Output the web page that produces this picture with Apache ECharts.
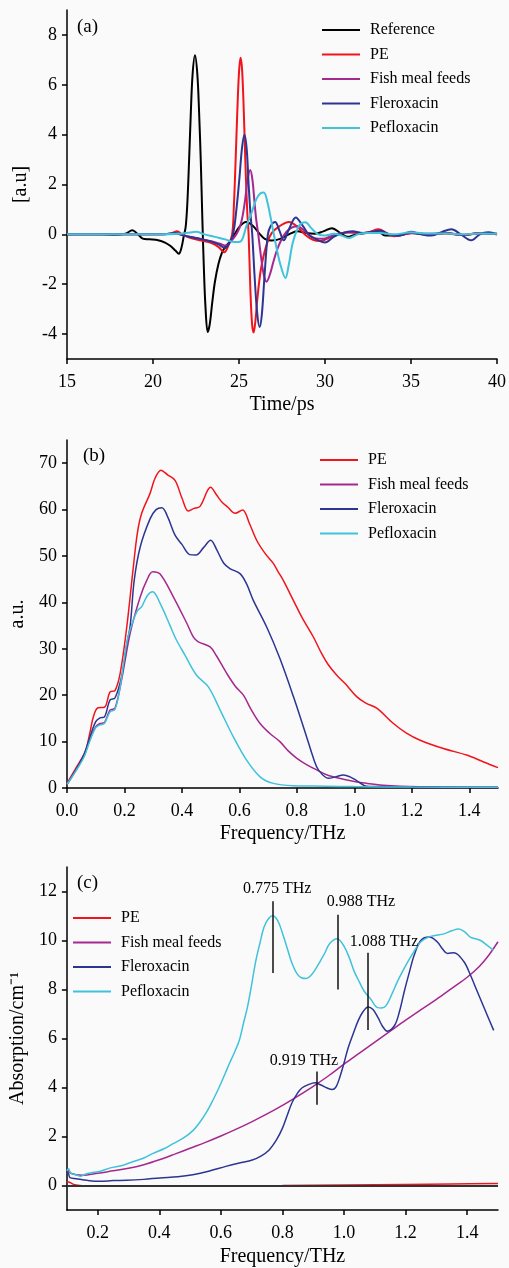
<!DOCTYPE html>
<html>
<head>
<meta charset="utf-8">
<script src="https://cdn.jsdelivr.net/npm/echarts@6/dist/echarts.min.js"></script>
<style>
  html, body { margin: 0; padding: 0; background: #fafafa; }
  #main { width: 509px; height: 1268px; }
</style>
</head>
<body>
<div id="main"></div>
<script>
// (a) time-domain signals, [time ps, amplitude]
var aReference = [[15,0],[16,0],[17,0],[17.8,-0.02],[18.4,0.03],[18.8,0.16],[19.1,0.02],[19.4,-0.17],[19.8,-0.2],[20.3,-0.24],[20.7,-0.33],[21.0,-0.46],[21.3,-0.65],[21.5,-0.78],[21.65,-0.55],[21.78,-0.1],[21.9,0.3],[22.0,1.3],[22.1,3.0],[22.2,4.9],[22.3,6.4],[22.44,7.18],[22.58,6.4],[22.68,4.9],[22.78,2.9],[22.87,0.6],[22.95,-1.2],[23.05,-2.9],[23.18,-3.92],[23.3,-3.6],[23.45,-2.7],[23.6,-1.9],[23.8,-1.2],[24.0,-0.75],[24.2,-0.5],[24.45,-0.3],[24.7,-0.05],[25.0,0.28],[25.4,0.5],[25.8,0.35],[26.2,0.02],[26.5,-0.18],[26.9,-0.25],[27.4,-0.18],[27.9,0.0],[28.4,0.12],[28.9,0.05],[29.4,0.02],[29.9,0.12],[30.4,0.25],[30.9,0.05],[31.3,-0.1],[31.8,0.0],[32.4,0.05],[33.0,0.15],[33.5,-0.05],[34.2,-0.05],[35,0.05],[36,0.0],[37,0.05],[38,-0.03],[39,0.04],[40,0]];
var aPE = [[15,0],[17,0],[19,0],[20.5,0.0],[21.1,0.05],[21.4,0.12],[21.7,0.0],[22.2,-0.15],[22.8,-0.25],[23.4,-0.35],[23.8,-0.5],[24.15,-0.72],[24.35,-0.5],[24.6,0.0],[24.7,1.1],[24.8,2.9],[24.9,4.9],[25.0,6.5],[25.09,7.08],[25.18,6.6],[25.28,4.9],[25.38,2.7],[25.48,0.9],[25.56,0.0],[25.66,-2.2],[25.76,-3.6],[25.85,-3.94],[25.95,-3.5],[26.08,-2.5],[26.25,-1.5],[26.45,-0.8],[26.66,-0.3],[26.9,0.05],[27.3,0.3],[27.9,0.5],[28.4,0.3],[28.9,-0.05],[29.3,-0.22],[29.7,-0.27],[30.2,-0.15],[30.8,0.02],[31.4,0.08],[32.0,0.05],[32.6,0.1],[33.1,0.2],[33.6,0.05],[34.0,-0.08],[34.6,0.0],[35.2,0.05],[36,0.0],[37,0.03],[38,-0.02],[39,0.05],[40,0.02]];
var aFish = [[15,0],[17,0],[19,0],[20.5,0],[21.3,0.02],[22,-0.08],[22.7,-0.18],[23.4,-0.28],[23.9,-0.38],[24.25,-0.45],[24.5,-0.3],[24.84,0.0],[25.05,0.3],[25.2,0.7],[25.36,1.4],[25.5,2.2],[25.65,2.58],[25.78,2.2],[25.9,1.3],[26.0,0.6],[26.12,0.0],[26.3,-1.0],[26.45,-1.65],[26.6,-1.9],[26.8,-1.6],[27.0,-1.1],[27.25,-0.55],[27.6,-0.05],[28.0,0.25],[28.4,0.33],[28.9,0.08],[29.4,-0.15],[29.9,-0.18],[30.4,-0.05],[31.0,0.05],[31.7,0.08],[32.4,0.05],[33.0,0.12],[33.6,0.02],[34.2,-0.05],[35,0.05],[36,0.02],[37,0.05],[38,-0.03],[39,0.05],[40,0.02]];
var aFlerox = [[15,0],[17,0],[19,0],[20.5,0.0],[21.3,0.05],[21.8,-0.05],[22.5,-0.15],[23.2,-0.25],[23.8,-0.4],[24.2,-0.55],[24.4,-0.4],[24.65,0.0],[24.85,1.0],[25.03,2.3],[25.18,3.5],[25.32,4.0],[25.45,3.4],[25.56,2.0],[25.67,0.8],[25.77,0.0],[25.9,-1.6],[26.05,-3.1],[26.2,-3.72],[26.33,-3.2],[26.48,-1.7],[26.68,0.0],[26.85,0.35],[27.1,0.5],[27.35,0.15],[27.6,-0.24],[27.9,0.2],[28.3,0.68],[28.7,0.35],[29.1,-0.05],[29.5,-0.2],[30.0,-0.33],[30.5,-0.1],[31.0,0.05],[31.6,0.12],[32.2,0.05],[32.8,0.1],[33.2,0.15],[33.8,-0.02],[34.3,-0.05],[35,0.1],[35.6,0.0],[36.2,-0.05],[36.8,0.1],[37.35,0.2],[37.9,0.0],[38.5,-0.24],[39.0,0.0],[39.5,0.08],[40,0.0]];
var aPeflox = [[15,0],[17,0],[19,0],[20.5,0.0],[21.5,0.02],[22.0,0.06],[22.5,0.1],[23.0,0.0],[23.6,-0.1],[24.2,-0.2],[24.75,-0.31],[25.1,-0.28],[25.43,0.33],[25.7,0.8],[26.0,1.4],[26.25,1.65],[26.44,1.68],[26.65,1.3],[26.97,0.2],[27.2,-0.6],[27.4,-1.2],[27.7,-1.75],[27.9,-1.2],[28.13,-0.33],[28.5,0.35],[28.86,0.49],[29.2,0.25],[29.6,0.0],[30.0,-0.05],[30.5,0.02],[31.0,-0.05],[31.4,-0.15],[31.9,0.0],[32.5,0.05],[33.2,0.05],[34,0.0],[35,0.08],[36,0.03],[37,0.03],[38,0.0],[39,0.03],[40,0.02]];

// (b) frequency spectra, [THz, a.u.]
var bPE = [[0,1.0],[0.03,4.2],[0.063,7.8],[0.08,12],[0.092,15.4],[0.108,17.3],[0.13,17.4],[0.15,20.7],[0.167,21.0],[0.185,24.7],[0.208,34.7],[0.231,47.7],[0.245,55],[0.26,59.2],[0.289,63.5],[0.306,66.7],[0.327,68.5],[0.35,67.5],[0.376,66.3],[0.4,62.5],[0.422,59.7],[0.44,60.2],[0.463,60.7],[0.5,64.8],[0.52,63.2],[0.538,61.7],[0.56,60.5],[0.585,59.2],[0.611,59.9],[0.635,57],[0.66,53.4],[0.69,50.5],[0.718,48.4],[0.735,46.6],[0.755,44.5],[0.776,41.9],[0.81,37.7],[0.823,36.2],[0.857,32.6],[0.886,29],[0.91,26.5],[0.939,24.3],[0.968,22.5],[1.008,19.7],[1.04,18.3],[1.078,17.2],[1.136,13.9],[1.18,11.9],[1.229,10.3],[1.31,8.5],[1.391,7.1],[1.45,5.6],[1.5,4.4]];
var bFish = [[0,0.8],[0.03,3.7],[0.06,7.0],[0.08,10.5],[0.1,13.2],[0.115,13.9],[0.13,14.1],[0.15,16.8],[0.167,17.2],[0.19,23.3],[0.22,33.4],[0.255,41.2],[0.278,44.8],[0.298,46.6],[0.324,46.1],[0.37,41.2],[0.417,35.5],[0.44,32.5],[0.457,31.5],[0.498,30.4],[0.52,28.5],[0.556,24.7],[0.585,22],[0.614,20],[0.64,17],[0.672,13.9],[0.705,11.8],[0.741,10],[0.77,8],[0.8,6.4],[0.835,5],[0.869,3.9],[0.91,2.7],[0.962,1.9],[1.0,1.4],[1.043,1.0],[1.1,0.6],[1.16,0.4],[1.3,0.25],[1.5,0.2]];
var bFlerox = [[0,0.8],[0.03,3.8],[0.06,7.3],[0.08,11],[0.1,14.3],[0.115,15.1],[0.13,15.3],[0.15,19.0],[0.167,19.4],[0.19,24],[0.208,31],[0.22,35],[0.234,44.8],[0.255,52],[0.289,58],[0.31,60],[0.33,60.4],[0.35,58.5],[0.376,54.5],[0.4,52.5],[0.427,50.3],[0.449,50.2],[0.475,51.8],[0.5,53.4],[0.52,51.5],[0.545,48.5],[0.567,47.3],[0.602,46.2],[0.625,44],[0.648,40.5],[0.695,34.7],[0.741,27.9],[0.788,19.7],[0.834,11],[0.86,6],[0.875,3.9],[0.91,2.1],[0.935,2.4],[0.962,2.8],[0.985,2.4],[1.008,1.6],[1.043,0.4],[1.1,0.3],[1.2,0.2],[1.35,0.15],[1.5,0.1]];
var bPeflox = [[0,0.8],[0.03,3.6],[0.06,6.8],[0.08,10.2],[0.1,13.0],[0.115,13.6],[0.13,13.9],[0.15,16.4],[0.167,16.9],[0.185,21.8],[0.21,31.9],[0.23,36],[0.245,38.2],[0.26,39.1],[0.28,41.5],[0.298,42.3],[0.324,39.8],[0.358,35.1],[0.38,32],[0.411,28.6],[0.451,24.3],[0.492,21.8],[0.533,16.8],[0.579,11],[0.625,6.0],[0.672,2.4],[0.718,1.0],[0.788,0.5],[0.9,0.4],[1.0,0.3],[1.2,0.2],[1.5,0.15]];

// (c) absorption, [THz, cm-1]
var cPE = [[0.1,0.15],[0.11,0.12],[0.125,0.03],[0.15,-0.01],[0.2,-0.03],[0.3,-0.03],[0.4,-0.02],[0.6,-0.01],[0.8,0.0],[1.0,0.02],[1.2,0.04],[1.35,0.06],[1.5,0.08]];
var cFish = [[0.1,0.62],[0.105,0.6],[0.113,0.5],[0.13,0.44],[0.15,0.42],[0.2,0.5],[0.25,0.6],[0.3,0.7],[0.35,0.85],[0.4,1.05],[0.45,1.28],[0.5,1.52],[0.55,1.76],[0.6,2.02],[0.65,2.3],[0.7,2.6],[0.75,2.92],[0.8,3.27],[0.85,3.65],[0.9,4.05],[0.95,4.48],[1.0,4.95],[1.05,5.4],[1.1,5.85],[1.15,6.3],[1.2,6.75],[1.25,7.18],[1.3,7.6],[1.35,8.05],[1.4,8.5],[1.44,8.95],[1.47,9.4],[1.5,9.95]];
var cFlerox = [[0.1,0.55],[0.105,0.5],[0.11,0.32],[0.13,0.28],[0.166,0.21],[0.209,0.17],[0.25,0.2],[0.295,0.21],[0.35,0.25],[0.402,0.31],[0.46,0.36],[0.509,0.44],[0.56,0.58],[0.616,0.78],[0.66,0.92],[0.702,1.04],[0.73,1.2],[0.756,1.44],[0.78,1.85],[0.799,2.31],[0.815,2.85],[0.831,3.38],[0.848,3.75],[0.863,3.98],[0.885,4.12],[0.906,4.19],[0.925,4.1],[0.945,3.98],[0.962,3.92],[0.975,4.05],[0.987,4.45],[1.0,5.0],[1.013,5.6],[1.03,6.2],[1.046,6.73],[1.062,7.1],[1.078,7.29],[1.094,7.18],[1.11,6.86],[1.125,6.5],[1.14,6.3],[1.164,6.53],[1.18,7.1],[1.196,7.94],[1.212,8.7],[1.228,9.41],[1.25,10.01],[1.277,10.14],[1.303,9.94],[1.32,9.65],[1.336,9.47],[1.357,9.5],[1.389,9.14],[1.41,8.6],[1.432,7.94],[1.46,7.1],[1.486,6.33]];
var cPeflox = [[0.1,0.6],[0.105,0.68],[0.113,0.5],[0.129,0.44],[0.145,0.38],[0.16,0.46],[0.177,0.51],[0.209,0.58],[0.241,0.72],[0.28,0.82],[0.316,0.98],[0.35,1.12],[0.38,1.31],[0.415,1.5],[0.445,1.71],[0.48,1.95],[0.51,2.25],[0.53,2.55],[0.553,2.98],[0.575,3.5],[0.596,4.05],[0.615,4.6],[0.628,4.99],[0.643,5.4],[0.66,5.93],[0.673,6.6],[0.686,7.26],[0.7,8.2],[0.713,9.14],[0.727,9.9],[0.74,10.54],[0.755,10.9],[0.769,11.01],[0.785,10.8],[0.799,10.34],[0.815,9.7],[0.831,9.07],[0.847,8.65],[0.863,8.47],[0.877,8.45],[0.89,8.54],[0.906,8.8],[0.922,9.14],[0.938,9.5],[0.953,9.87],[0.978,10.07],[1.001,9.74],[1.017,9.3],[1.033,8.74],[1.05,8.3],[1.065,7.94],[1.087,7.6],[1.109,7.26],[1.122,7.25],[1.136,7.33],[1.155,7.8],[1.174,8.34],[1.195,8.85],[1.217,9.34],[1.249,9.94],[1.281,10.17],[1.325,10.27],[1.35,10.4],[1.373,10.47],[1.392,10.35],[1.41,10.14],[1.442,10.01],[1.465,9.8],[1.485,9.61]];

// peak markers in (c): label, x, y from, y to
var peakLabels = ['0.775 THz', '0.988 THz', '1.088 THz', '0.919 THz'];
var peakX = [0.77, 0.98, 1.078, 0.912];
var peakY0 = [8.67, 8.0, 6.35, 3.3];
var peakY1 = [11.6, 11.05, 9.5, 4.65];
var peakOffset = [[4, -2], [23, -2], [16, 0], [-13, 0]];

// tick labels
var ticksAX = [15, 20, 25, 30, 35, 40];
var ticksAY = [-4, -2, 0, 2, 4, 6, 8];
var ticksBX = [0, 0.2, 0.4, 0.6, 0.8, 1.0, 1.2, 1.4];
var ticksBY = [0, 10, 20, 30, 40, 50, 60, 70];
var ticksCX = [0.2, 0.4, 0.6, 0.8, 1.0, 1.2, 1.4];
var ticksCY = [0, 2, 4, 6, 8, 10, 12];

var serif = '"Liberation Serif", "Times New Roman", serif';
var colors = {
    'Reference': '#000000',
    'PE': '#f2141c',
    'Fish meal feeds': '#a5288f',
    'Fleroxacin': '#2c3592',
    'Pefloxacin': '#3fc2da'
};

function xAxis(gi, min, max, ticks, name, fixed, gap) {
    return {
        type: 'value', gridIndex: gi, min: min, max: max,
        name: name, nameLocation: 'middle', nameGap: gap,
        nameTextStyle: {fontFamily: serif, fontSize: 20, color: '#000'},
        axisLine: {onZero: false, lineStyle: {color: '#000', width: 1.5}},
        axisTick: {customValues: ticks, length: 5, lineStyle: {color: '#000', width: 1.5}},
        axisLabel: {
            customValues: ticks, margin: 14, fontFamily: serif, fontSize: 18, color: '#000',
            formatter: function (v) { return fixed ? v.toFixed(1) : String(v); }
        },
        splitLine: {show: false}
    };
}
function yAxis(gi, min, max, ticks, name, gap) {
    return {
        type: 'value', gridIndex: gi, min: min, max: max,
        name: name, nameLocation: 'middle', nameGap: gap,
        nameTextStyle: {fontFamily: serif, fontSize: 20, color: '#000'},
        axisLine: {onZero: false, lineStyle: {color: '#000', width: 1.5}},
        axisTick: {customValues: ticks, length: 5, lineStyle: {color: '#000', width: 1.5}},
        axisLabel: {customValues: ticks, margin: 10, fontFamily: serif, fontSize: 18, color: '#000'},
        splitLine: {show: false}
    };
}
function line(name, data, gi, width) {
    return {
        name: name, type: 'line', xAxisIndex: gi, yAxisIndex: gi,
        data: data, symbol: 'none', smooth: 0.35,
        lineStyle: {color: colors[name], width: width},
        itemStyle: {color: colors[name]}
    };
}
function legend(names, left, top) {
    return {
        data: names, orient: 'vertical', left: left, top: top, padding: 0,
        icon: 'rect', itemWidth: 38, itemHeight: 2, itemGap: 8.5,
        textStyle: {fontFamily: serif, fontSize: 16, color: '#000', lineHeight: 16, padding: [0, 0, 0, 5]}
    };
}

var markData = [];
for (var i = 0; i < peakLabels.length; i++) {
    markData.push([
        {coord: [peakX[i], peakY0[i]]},
        {coord: [peakX[i], peakY1[i]], label: {formatter: peakLabels[i], offset: peakOffset[i]}}
    ]);
}

var seriesList = [
    line('Reference', aReference, 0, 2),
    line('PE', aPE, 0, 2),
    line('Fish meal feeds', aFish, 0, 2),
    line('Fleroxacin', aFlerox, 0, 2),
    line('Pefloxacin', aPeflox, 0, 2),
    line('PE', bPE, 1, 1.5),
    line('Fish meal feeds', bFish, 1, 1.5),
    line('Fleroxacin', bFlerox, 1, 1.5),
    line('Pefloxacin', bPeflox, 1, 1.5),
    line('PE', cPE, 2, 1.5),
    line('Fish meal feeds', cFish, 2, 1.5),
    line('Fleroxacin', cFlerox, 2, 1.5),
    line('Pefloxacin', cPeflox, 2, 1.5)
];
// zero line and peak markers for (c)
seriesList[9].markLine = {
    silent: true, symbol: 'none', animation: false,
    lineStyle: {color: '#333', width: 2, type: 'solid'},
    label: {show: false},
    data: [{yAxis: 0}]
};
seriesList[12].markLine = {
    silent: true, symbol: 'none', animation: false,
    lineStyle: {color: '#111', width: 1.5, type: 'solid'},
    label: {show: true, position: 'end', fontFamily: serif, fontSize: 16, color: '#000', distance: 3},
    data: markData
};

var myChart = echarts.init(document.getElementById('main'));
var option = {
    backgroundColor: '#fafafa',
    animation: false,
    title: [
        {text: '(a)', left: 72, top: 13, textStyle: {fontFamily: serif, fontSize: 19, fontWeight: 'normal', color: '#000'}},
        {text: '(b)', left: 78, top: 442, textStyle: {fontFamily: serif, fontSize: 19, fontWeight: 'normal', color: '#000'}},
        {text: '(c)', left: 72, top: 869, textStyle: {fontFamily: serif, fontSize: 19, fontWeight: 'normal', color: '#000'}}
    ],
    legend: [
        legend(['Reference', 'PE', 'Fish meal feeds', 'Fleroxacin', 'Pefloxacin'], 322, 22),
        legend(['PE', 'Fish meal feeds', 'Fleroxacin', 'Pefloxacin'], 320, 452),
        legend(['PE', 'Fish meal feeds', 'Fleroxacin', 'Pefloxacin'], 73, 910)
    ],
    grid: [
        {left: 67, width: 431, top: 10, height: 349},
        {left: 67, width: 431, top: 440, height: 348},
        {left: 66, width: 432, top: 867, height: 348}
    ],
    xAxis: [
        xAxis(0, 15, 40, ticksAX, 'Time/ps', false, 36),
        xAxis(1, 0, 1.5, ticksBX, 'Frequency/THz', true, 36),
        xAxis(2, 0.1, 1.5, ticksCX, 'Frequency/THz', true, 37)
    ],
    yAxis: [
        yAxis(0, -5, 9, ticksAY, '[a.u]', 30),
        yAxis(1, 0, 75, ticksBY, 'a.u.', 27),
        yAxis(2, -1, 13, ticksCY, 'Absorption/cm\u207B\u00B9', 32)
    ],
    series: seriesList
};
myChart.setOption(option);
</script>
</body>
</html>
